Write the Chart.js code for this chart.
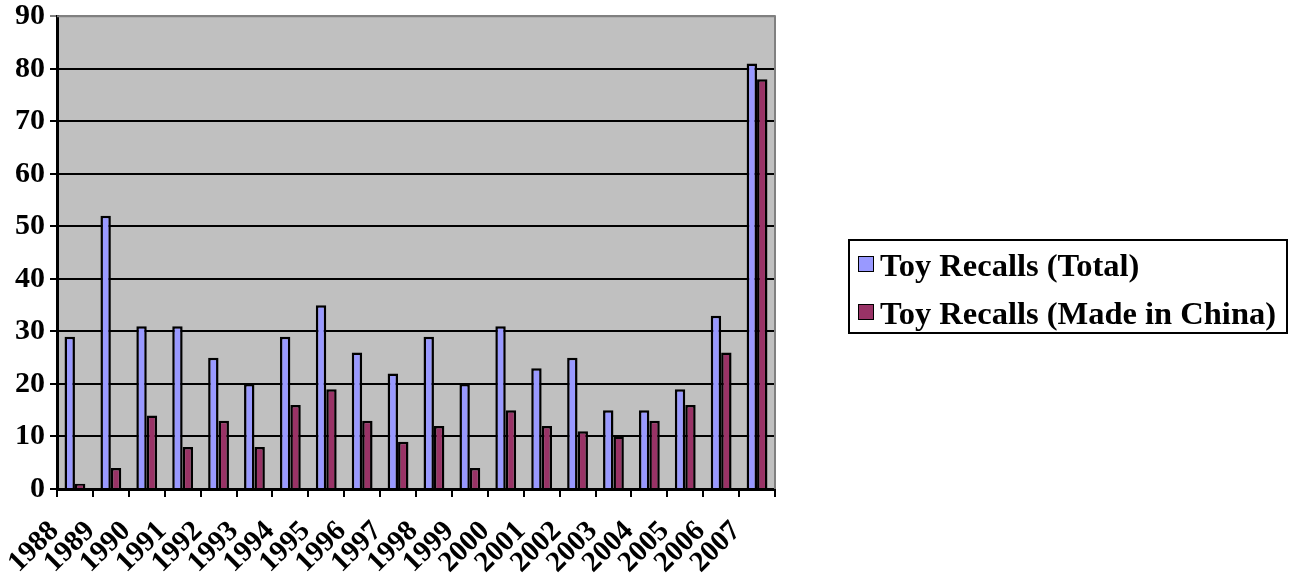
<!DOCTYPE html>
<html>
<head>
<meta charset="utf-8">
<script src="https://cdn.jsdelivr.net/npm/chart.js@4.4.1/dist/chart.umd.min.js"></script>
<style>
  html, body { margin: 0; padding: 0; background: #ffffff; }
  #wrap { position: relative; width: 1297px; height: 575px; }
  canvas { display: block; }
  #legend {
    position: absolute; left: 848px; top: 239px;
    width: 436px; height: 91px;
    border: 2px solid #000000; background: #ffffff;
    font-family: "Liberation Serif", "Times New Roman", serif;
    font-weight: bold; font-size: 32.5px; color: #000000;
  }
  #legend ul { list-style: none; margin: 0; padding: 0; }
  #legend li { position: relative; height: 48px; line-height: 48px; padding-left: 30px; white-space: nowrap; }
  #legend li span.swatch {
    position: absolute; left: 8px; top: 15px;
    width: 14px; height: 14px; border: 1.5px solid #000000;
  }
</style>
</head>
<body>
<div id="wrap">
  <canvas id="recalls" width="1297" height="575" style="width:1297px;height:575px"></canvas>
  <div id="legend"></div>
</div>
<script>
// Yearly toy recall counts
const years = ['1988', '1989', '1990', '1991', '1992', '1993', '1994', '1995', '1996', '1997',
               '1998', '1999', '2000', '2001', '2002', '2003', '2004', '2005', '2006', '2007'];
const totalRecalls = [29, 52, 31, 31, 25, 20, 29, 35, 26, 22, 29, 20, 31, 23, 25, 15, 15, 19, 33, 81];
const chinaRecalls = [1, 4, 14, 8, 13, 8, 16, 19, 13, 9, 12, 4, 15, 12, 11, 10, 13, 16, 26, 78];
const yTickValues = [0, 10, 20, 30, 40, 50, 60, 70, 80, 90];

const SERIF = '"Liberation Serif", "Times New Roman", serif';

// Grey plot background plus the grey top/right frame
const plotFrame = {
  id: 'plotFrame',
  beforeDraw(chart) {
    const { ctx, chartArea: a } = chart;
    ctx.save();
    ctx.fillStyle = '#c0c0c0';
    ctx.fillRect(a.left, a.top, a.right - a.left, a.bottom - a.top);
    ctx.restore();
  },
  afterDraw(chart) {
    const { ctx, chartArea: a } = chart;
    ctx.save();
    ctx.strokeStyle = '#808080';
    ctx.lineWidth = 2;
    ctx.beginPath();
    ctx.moveTo(a.left, a.top);
    ctx.lineTo(a.right, a.top);
    ctx.lineTo(a.right, a.bottom);
    ctx.stroke();
    ctx.restore();
  }
};

// HTML legend built from the chart's own legend items
const htmlLegend = {
  id: 'htmlLegend',
  afterUpdate(chart) {
    const host = document.getElementById('legend');
    host.innerHTML = '';
    const list = document.createElement('ul');
    const items = chart.options.plugins.legend.labels.generateLabels(chart);
    items.forEach(item => {
      const li = document.createElement('li');
      const sw = document.createElement('span');
      sw.className = 'swatch';
      sw.style.background = item.fillStyle;
      li.appendChild(sw);
      li.appendChild(document.createTextNode(item.text));
      list.appendChild(li);
    });
    host.appendChild(list);
  }
};

new Chart(document.getElementById('recalls'), {
  type: 'bar',
  data: {
    labels: years,
    datasets: [
      {
        label: 'Toy Recalls (Total)',
        data: totalRecalls,
        backgroundColor: '#9999ff',
        borderColor: '#000000',
        borderWidth: 2.5,
        categoryPercentage: 0.58,
        barPercentage: 1.0
      },
      {
        label: 'Toy Recalls (Made in China)',
        data: chinaRecalls,
        backgroundColor: '#993366',
        borderColor: '#000000',
        borderWidth: 2.5,
        categoryPercentage: 0.58,
        barPercentage: 1.0
      }
    ]
  },
  options: {
    responsive: false,
    animation: false,
    devicePixelRatio: 1,
    layout: { padding: { top: 0, left: 0, right: 522, bottom: 0 } },
    plugins: {
      tooltip: { enabled: false },
      legend: { display: false }
    },
    scales: {
      x: {
        offset: true,
        grid: {
          display: true,
          offset: true,
          drawOnChartArea: false,
          drawTicks: true,
          tickLength: 8,
          color: '#000000',
          lineWidth: 2
        },
        border: { display: true, color: '#000000', width: 3 },
        ticks: {
          color: '#000000',
          font: { family: SERIF, size: 29, weight: 'bold' },
          minRotation: 45,
          maxRotation: 45,
          autoSkip: false,
          padding: -3,
          // trailing spaces pull each rotated year down-left of its slot
          callback: (value, index) => years[index] + '    '
        },
        afterFit(scale) { scale.height = 86; }
      },
      y: {
        min: 0,
        max: 90,
        afterBuildTicks(scale) { scale.ticks = yTickValues.map(v => ({ value: v })); },
        grid: {
          color: ctx => (ctx.tick && ctx.tick.value === 90 ? '#808080' : '#000000'),
          lineWidth: 2,
          tickLength: 7,
          drawTicks: true
        },
        border: { display: true, color: '#000000', width: 3 },
        ticks: {
          color: '#000000',
          font: { family: SERIF, size: 30, weight: 'bold', lineHeight: 0.75 },
          padding: 5
        },
        afterFit(scale) { scale.width = 57; }
      }
    }
  },
  plugins: [plotFrame, htmlLegend]
});
</script>
</body>
</html>
